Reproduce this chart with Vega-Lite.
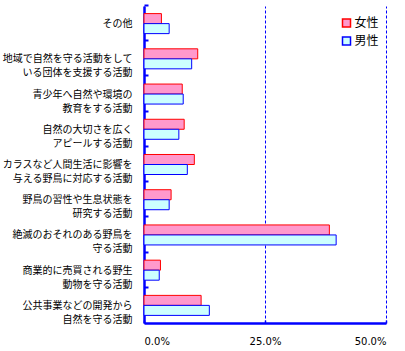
{
  "$schema": "https://vega.github.io/schema/vega-lite/v6.json",
  "width": 242,
  "height": 317,
  "autosize": {"type": "none"},
  "padding": {"left": 144, "top": 6, "right": 19, "bottom": 28},
  "background": "white",
  "config": {"view": {"stroke": null}},
  "data": {
    "values": [
      {"cat": "その他", "gender": "女性", "value": 3.6},
      {"cat": "その他", "gender": "男性", "value": 5.2},
      {"cat": "地域で自然を守る活動をして\nいる団体を支援する活動", "gender": "女性", "value": 11.1},
      {"cat": "地域で自然を守る活動をして\nいる団体を支援する活動", "gender": "男性", "value": 9.85},
      {"cat": "青少年へ自然や環境の\n教育をする活動", "gender": "女性", "value": 7.9},
      {"cat": "青少年へ自然や環境の\n教育をする活動", "gender": "男性", "value": 8.1},
      {"cat": "自然の大切さを広く\nアピールする活動", "gender": "女性", "value": 8.3},
      {"cat": "自然の大切さを広く\nアピールする活動", "gender": "男性", "value": 7.2},
      {"cat": "カラスなど人間生活に影響を\n与える野鳥に対応する活動", "gender": "女性", "value": 10.4},
      {"cat": "カラスなど人間生活に影響を\n与える野鳥に対応する活動", "gender": "男性", "value": 8.95},
      {"cat": "野鳥の習性や生息状態を\n研究する活動", "gender": "女性", "value": 5.6},
      {"cat": "野鳥の習性や生息状態を\n研究する活動", "gender": "男性", "value": 5.2},
      {"cat": "絶滅のおそれのある野鳥を\n守る活動", "gender": "女性", "value": 38.3},
      {"cat": "絶滅のおそれのある野鳥を\n守る活動", "gender": "男性", "value": 39.7},
      {"cat": "商業的に売買される野生\n動物を守る活動", "gender": "女性", "value": 3.4},
      {"cat": "商業的に売買される野生\n動物を守る活動", "gender": "男性", "value": 3.15},
      {"cat": "公共事業などの開発から\n自然を守る活動", "gender": "女性", "value": 11.8},
      {"cat": "公共事業などの開発から\n自然を守る活動", "gender": "男性", "value": 13.5}
    ]
  },
  "mark": {"type": "bar", "strokeWidth": 1},
  "encoding": {
    "y": {
      "field": "cat",
      "type": "nominal",
      "sort": null,
      "scale": {"paddingInner": 0, "paddingOuter": 0},
      "axis": {
        "title": null,
        "domainColor": "#0000FF",
        "domainWidth": 2.5,
        "ticks": true,
        "tickColor": "#0000FF",
        "tickWidth": 2,
        "tickSize": -4,
        "bandPosition": 0,
        "tickOffset": -1,
        "labelOffset": 1,
        "labelFont": "Noto Sans CJK JP",
        "labelFontSize": 10,
        "labelColor": "black",
        "labelLineHeight": 14,
        "labelPadding": 16,
        "labelExpr": "split(datum.label, '\\n')",
        "labelLimit": 200
      }
    },
    "yOffset": {
      "field": "gender",
      "type": "nominal",
      "sort": ["女性", "男性"],
      "scale": {"paddingInner": 0, "paddingOuter": 0.76}
    },
    "x": {
      "field": "value",
      "type": "quantitative",
      "scale": {"domain": [0, 50], "nice": false},
      "axis": {
        "title": null,
        "values": [0, 25, 50],
        "domainColor": "#0000FF",
        "domainWidth": 2.5,
        "tickColor": "#0000FF",
        "tickWidth": 1.5,
        "tickSize": -3,
        "grid": true,
        "gridColor": "#0000FF",
        "gridDash": [3, 2],
        "gridWidth": 1,
        "labelFont": "DejaVu Sans",
        "labelFontSize": 10,
        "labelColor": "black",
        "labelPadding": 16,
        "labelExpr": "format(datum.value, '.1f') + '%'"
      }
    },
    "fill": {
      "field": "gender",
      "type": "nominal",
      "scale": {"domain": ["女性", "男性"], "range": ["#FF99CC", "#CCFFFF"]},
      "legend": {
        "title": null,
        "orient": "none",
        "legendX": 196.5,
        "legendY": 11,
        "padding": 0,
        "symbolType": "square",
        "symbolSize": 64,
        "symbolStrokeWidth": 1.5,
        "labelFont": "Noto Sans CJK JP",
        "labelFontSize": 12,
        "labelColor": "black",
        "labelOffset": 2,
        "rowPadding": 4
      }
    },
    "stroke": {
      "field": "gender",
      "type": "nominal",
      "scale": {"domain": ["女性", "男性"], "range": ["#FF0000", "#0000FF"]}
    }
  }
}
